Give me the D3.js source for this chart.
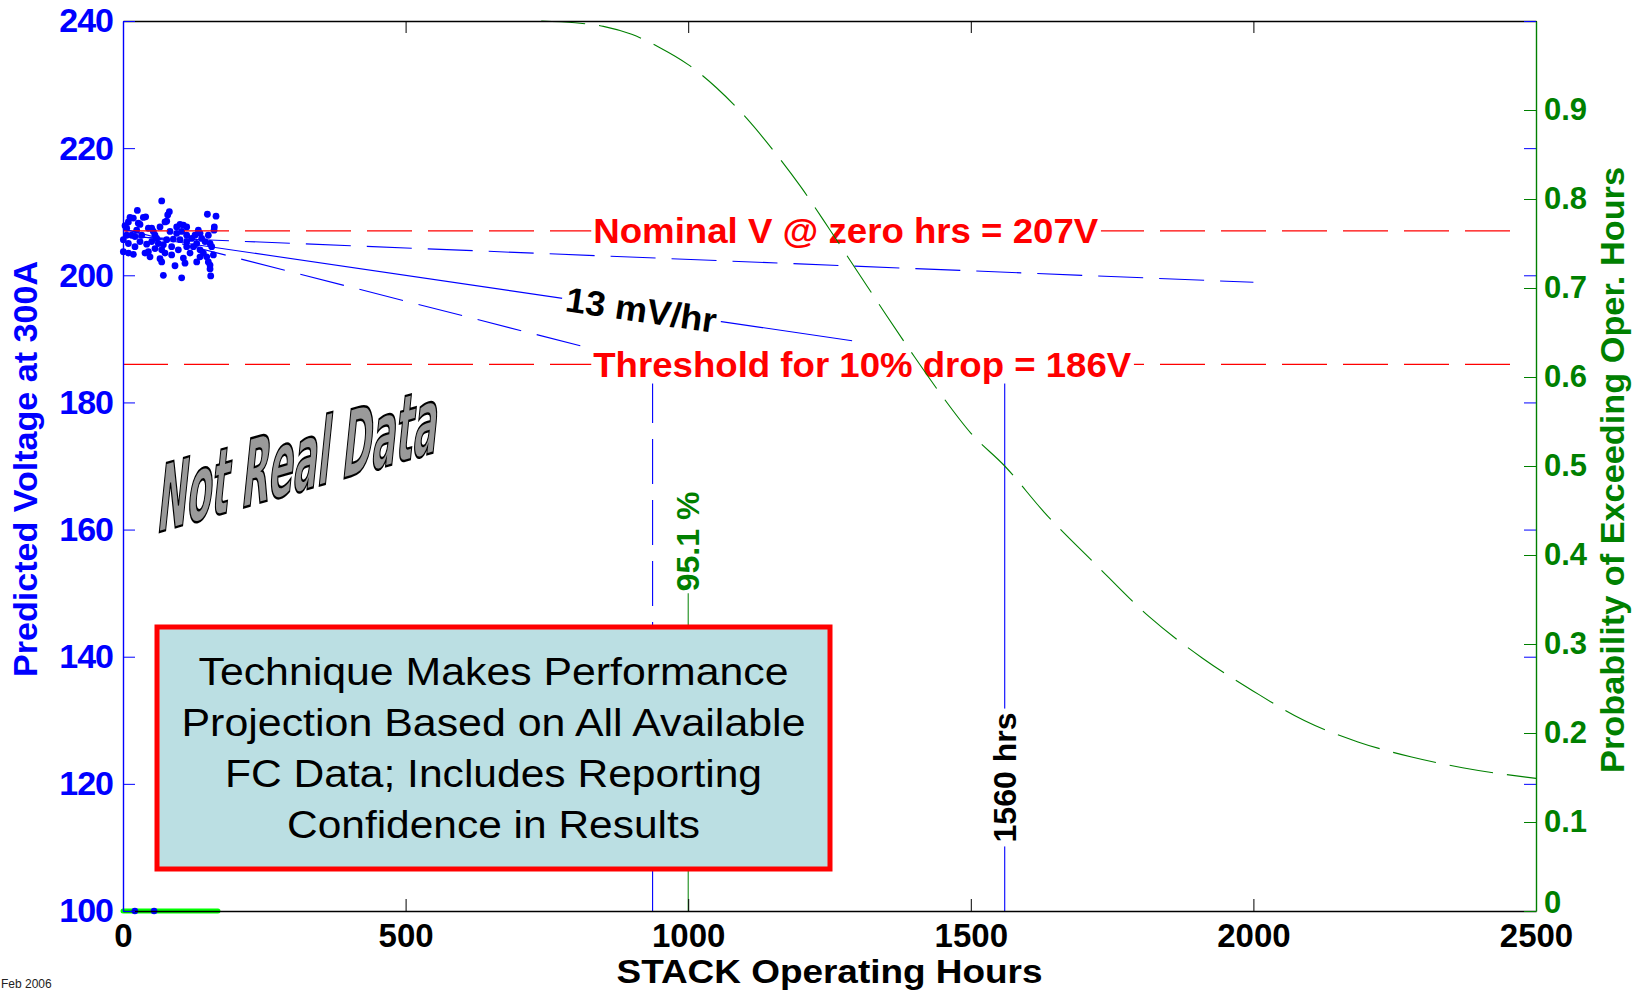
<!DOCTYPE html>
<html><head><meta charset="utf-8">
<script src="https://cdn.jsdelivr.net/npm/d3@7"></script>
<style>body{margin:0;background:#fff;} svg{display:block;}</style>
</head><body>
<svg id="chart" width="1638" height="990"></svg>
<script>
// ---------- data ----------
const xTicks = [0, 500, 1000, 1500, 2000, 2500];
const yTicksLeft = [100, 120, 140, 160, 180, 200, 220, 240];
const yTicksRight = [0, 0.1, 0.2, 0.3, 0.4, 0.5, 0.6, 0.7, 0.8, 0.9];

const scatterHours = [68.5,25.4,82.0,79.1,149.3,164.6,12.4,18.3,9.5,36.0,
  40.1,77.3,74.3,3.6,6.5,30.1,27.1,44.9,50.8,65.5,
  100.9,106.8,112.7,95.0,161.6,161.1,133.3,136.3,15.3,21.2,
  33.0,56.6,59.6,83.2,95.0,103.8,112.7,77.3,89.1,100.9,
  112.7,0.6,9.5,30.1,41.9,50.8,139.2,145.1,154.0,21.2,
  56.6,86.1,68.5,112.7,124.5,136.3,156.9,0.6,9.5,18.3,
  38.9,44.9,74.3,86.1,118.6,142.2,159.9,65.5,68.5,106.8,
  130.4,148.1,151.0,92.0,154.0,154.0,71.4,103.8,155.2,
  53.7,62.5,121.5,127.4,24.2,71.4,97.9,130.4,151.0,6.5,47.8,109.7,136.3];
const scatterVolts = [211.7,210.2,210.0,209.5,209.6,209.3,209.1,209.0,208.4,209.1,
  209.2,208.5,208.4,207.8,207.4,208.0,208.2,207.4,207.4,207.6,
  208.0,207.9,207.6,207.6,207.6,207.1,207.1,206.6,206.3,206.1,
  206.3,206.3,205.8,206.9,206.6,206.9,206.3,205.6,205.7,205.6,
  205.3,205.6,205.0,205.3,204.9,205.3,205.8,205.3,205.0,204.5,
  204.2,204.5,204.0,204.5,204.5,204.0,204.5,203.7,203.5,203.3,
  203.5,203.7,203.5,203.2,203.5,203.5,203.2,202.6,202.1,202.7,
  202.1,202.9,202.1,201.5,201.6,201.0,200.0,199.6,199.9,
  206.9,205.0,205.8,206.3,207.1,204.8,204.0,205.0,206.3,206.3,202.9,201.9,202.9];

const stripHours = [0, 168];
const stripDotHours = [21, 55];
const stripVolt = 100;

const nominalV = 207;
const thresholdV = 186;
const refLineEnd = 2475;
const refLabelHour = 832;

const upperHours = [0, 2000], upperVolts = [206.1, 198.9];
const midHours = [0, 1290],   midVolts = [206.5, 189.7];
const lowerHours = [0, 937],  lowerVolts = [207.3, 186.0];

const lowerCrossHour = 937;
const midCrossHour = 1560;
const probMarkHour = 1000;
const probMarkTop = 0.357;

const probHours = [740,800,850,900,950,1000,1050,1100,1150,1200,1250,1300,1350,1400,1450,1500,1560,1630,1720,1815,1910,2000,2090,2185,2280,2370,2500];
const probValues = [1.0,0.998,0.994,0.985,0.970,0.951,0.925,0.893,0.855,0.813,0.766,0.718,0.670,0.623,0.578,0.537,0.500,0.448,0.390,0.331,0.284,0.247,0.214,0.190,0.173,0.161,0.149];

const boxLines = ["Technique Makes Performance","Projection Based on All Available","FC Data; Includes Reporting","Confidence in Results"];

// ---------- setup ----------
const svg = d3.select('#chart');
const L = 123, R = 1536, T = 21, B = 911;
const x = d3.scaleLinear().domain([0, 2500]).range([L, R]);
const yV = d3.scaleLinear().domain([100, 240]).range([B, T]);
const yP = d3.scaleLinear().domain([0, 1]).range([B, T]);
const FONT = "'Liberation Sans', Arial, Helvetica, sans-serif";
const NARROW = "'Liberation Sans Narrow', 'Arial Narrow', 'DejaVu Sans Condensed', sans-serif";
const BLUE = '#0000ff', GREEN = '#008000', RED = '#ff0000';
const DASH = '45,16';

// ---------- scatter ----------
svg.append('g').selectAll('circle').data(scatterHours).join('circle')
  .attr('cx', d => x(d)).attr('cy', (d, i) => yV(scatterVolts[i]))
  .attr('r', 3.4).attr('fill', BLUE);

// bottom strip
svg.append('line').attr('x1', x(stripHours[0])).attr('x2', x(stripHours[1]))
  .attr('y1', yV(stripVolt)).attr('y2', yV(stripVolt))
  .attr('stroke', '#00ff00').attr('stroke-width', 5).attr('stroke-linecap', 'round');
svg.append('g').selectAll('circle').data(stripDotHours).join('circle')
  .attr('cx', d => x(d)).attr('cy', yV(stripVolt)).attr('r', 3.3).attr('fill', BLUE);

// ---------- reference lines ----------
[nominalV, thresholdV].forEach(v => {
  svg.append('line').attr('x1', x(0)).attr('x2', x(refLineEnd))
    .attr('y1', yV(v)).attr('y2', yV(v))
    .attr('stroke', RED).attr('stroke-width', 1.2).attr('stroke-dasharray', DASH);
});

// ---------- trend lines ----------
const lineV = d3.line().x(d => x(d[0])).y(d => yV(d[1]));
function trend(hs, vs, dash) {
  svg.append('path').datum(hs.map((h, i) => [h, vs[i]])).attr('d', lineV)
    .attr('fill', 'none').attr('stroke', BLUE).attr('stroke-width', 1.1)
    .attr('stroke-dasharray', dash);
}
trend(upperHours, upperVolts, DASH);
trend(midHours, midVolts, null);
trend(lowerHours, lowerVolts, DASH);

// vertical markers (drawn from the bottom up)
svg.append('path').datum([[lowerCrossHour, 100], [lowerCrossHour, thresholdV]]).attr('d', lineV)
  .attr('fill', 'none').attr('stroke', BLUE).attr('stroke-width', 1.1).attr('stroke-dasharray', DASH);
svg.append('path').datum([[midCrossHour, 100], [midCrossHour, thresholdV]]).attr('d', lineV)
  .attr('fill', 'none').attr('stroke', BLUE).attr('stroke-width', 1.1);

// ---------- labels with white background ----------
function bgLabel(transform, text, o) {
  const g = svg.append('g').attr('transform', transform);
  const rect = g.append('rect').attr('fill', '#fff');
  const t = g.append('text').text(text)
    .attr('font-family', o.family || FONT).attr('font-weight', 'bold')
    .attr('font-size', o.size).attr('fill', o.color)
    .attr('text-anchor', o.anchor || 'start').attr('x', o.x || 0).attr('dy', '0.35em');
  if (o.len) t.attr('textLength', o.len).attr('lengthAdjust', 'spacingAndGlyphs');
  const bb = t.node().getBBox();
  const p = o.pad == null ? 2 : o.pad;
  rect.attr('x', bb.x - p).attr('y', bb.y).attr('width', bb.width + 2 * p).attr('height', bb.height);
  return g;
}
bgLabel(`translate(${x(refLabelHour)},${yV(nominalV)})`, 'Nominal V @ zero hrs = 207V', {size: 35, color: RED, len: 505});
bgLabel(`translate(${x(refLabelHour)},${yV(thresholdV)})`, 'Threshold for 10% drop = 186V', {size: 35, color: RED, len: 538});

// slope label
const mSlope = (midVolts[1] - midVolts[0]) / (midHours[1] - midHours[0]);
const hLab = 917, vLab = midVolts[0] + mSlope * hLab;
const ang = Math.atan2(yV(midVolts[1]) - yV(midVolts[0]), x(midHours[1]) - x(midHours[0])) * 180 / Math.PI;
bgLabel(`translate(${x(hLab)},${yV(vLab)}) rotate(${ang})`, '13 mV/hr', {size: 35, color: '#000', anchor: 'middle', len: 152, pad: 4});

bgLabel(`translate(${x(midCrossHour)},${yV(121)}) rotate(-90)`, '1560 hrs', {size: 32, color: '#000', anchor: 'middle', pad: 4});

// ---------- probability axis layer ----------
const lineP = d3.line().x(d => x(d[0])).y(d => yP(d[1])).curve(d3.curveMonotoneX);
svg.append('path').datum(probHours.map((h, i) => [h, probValues[i]])).attr('d', lineP)
  .attr('fill', 'none').attr('stroke', GREEN).attr('stroke-width', 1.1).attr('stroke-dasharray', '44,14');

svg.append('line').attr('x1', x(probMarkHour)).attr('x2', x(probMarkHour))
  .attr('y1', yP(0)).attr('y2', yP(probMarkTop)).attr('stroke', GREEN).attr('stroke-width', 1);
bgLabel(`translate(${x(probMarkHour)},${yP(probMarkTop)}) rotate(-90)`, '95.1 %', {size: 32, color: GREEN, x: 2, pad: 0});

// ---------- text box overlay ----------
const box = svg.append('g');
box.append('rect').attr('x', 157).attr('y', 627).attr('width', 673).attr('height', 242)
  .attr('fill', '#bbdfe3').attr('stroke', RED).attr('stroke-width', 5);
const boxLens = [590, 624, 537, 413];
box.selectAll('text').data(boxLines).join('text')
  .attr('x', 493.5).attr('y', (d, i) => 685 + i * 51)
  .attr('text-anchor', 'middle').attr('font-family', FONT).attr('font-size', 38).attr('fill', '#000')
  .attr('textLength', (d, i) => boxLens[i]).attr('lengthAdjust', 'spacingAndGlyphs')
  .text(d => d);

// "Not Real Data" word-art
svg.append('g').attr('transform', 'translate(156,533) skewY(-16.2) skewX(-6)')
  .append('text').text('Not Real Data')
  .attr('font-family', NARROW).attr('font-weight', 'bold').attr('font-size', 92)
  .attr('fill', '#9a9a9a').attr('stroke', '#000').attr('stroke-width', 2.4)
  .attr('textLength', 280).attr('lengthAdjust', 'spacingAndGlyphs');

// ---------- axes ----------
function styleAxis(g, color, size) {
  g.select('.domain').attr('stroke', color).attr('stroke-width', 1.4);
  g.selectAll('.tick line').attr('stroke', color).attr('stroke-width', 1);
  g.selectAll('.tick text').attr('fill', color).attr('font-family', FONT)
    .attr('font-weight', 'bold').attr('font-size', size);
}
const gTop = svg.append('g').attr('transform', `translate(0,${T})`)
  .call(d3.axisTop(x).tickValues(xTicks).tickSizeInner(-12).tickSizeOuter(0).tickFormat(''));
styleAxis(gTop, '#000', 10);
const gBot = svg.append('g').attr('transform', `translate(0,${B})`)
  .call(d3.axisBottom(x).tickValues(xTicks).tickSizeInner(-12).tickSizeOuter(0).tickPadding(13).tickFormat(d3.format('d')));
styleAxis(gBot, '#000', 33);
const gMirror = svg.append('g').attr('transform', `translate(${R},0)`)
  .call(d3.axisRight(yV).tickValues(yTicksLeft).tickSizeInner(-12).tickSizeOuter(0).tickFormat(''));
styleAxis(gMirror, BLUE, 10);
gMirror.select('.domain').remove();
const gLeft = svg.append('g').attr('transform', `translate(${L},0)`)
  .call(d3.axisLeft(yV).tickValues(yTicksLeft).tickSizeInner(-12).tickSizeOuter(0).tickPadding(10).tickFormat(d3.format('d')));
styleAxis(gLeft, BLUE, 34);
gLeft.selectAll('.tick text').attr('letter-spacing', -1);
const gRight = svg.append('g').attr('transform', `translate(${R},0)`)
  .call(d3.axisRight(yP).tickValues(yTicksRight).tickSizeInner(-12).tickSizeOuter(0).tickPadding(8)
    .tickFormat(d => d === 0 ? '0' : d3.format('.1f')(d)));
styleAxis(gRight, GREEN, 31);
// lift the "0" label a little so it clears the "2500" tick label
gRight.selectAll('.tick text').filter(d => d === 0).attr('dy', '0.05em');

// axis titles
svg.append('text').attr('x', (L + R) / 2).attr('y', 983).attr('text-anchor', 'middle')
  .attr('font-family', FONT).attr('font-weight', 'bold').attr('font-size', 33).attr('fill', '#000')
  .attr('textLength', 426).attr('lengthAdjust', 'spacingAndGlyphs')
  .text('STACK Operating Hours');
svg.append('text').attr('transform', 'translate(25,469) rotate(-90)').attr('text-anchor', 'middle').attr('dy', '0.35em')
  .attr('font-family', FONT).attr('font-weight', 'bold').attr('font-size', 34).attr('fill', BLUE)
  .attr('textLength', 416).attr('lengthAdjust', 'spacingAndGlyphs')
  .text('Predicted Voltage at 300A');
svg.append('text').attr('transform', 'translate(1612,470) rotate(-90)').attr('text-anchor', 'middle').attr('dy', '0.35em')
  .attr('font-family', FONT).attr('font-weight', 'bold').attr('font-size', 34).attr('fill', GREEN)
  .attr('textLength', 606).attr('lengthAdjust', 'spacingAndGlyphs')
  .text('Probability of Exceeding Oper. Hours');

svg.append('text').attr('x', 1).attr('y', 988).attr('font-family', FONT).attr('font-size', 12).attr('fill', '#222')
  .text('Feb 2006');
</script>
</body></html>
